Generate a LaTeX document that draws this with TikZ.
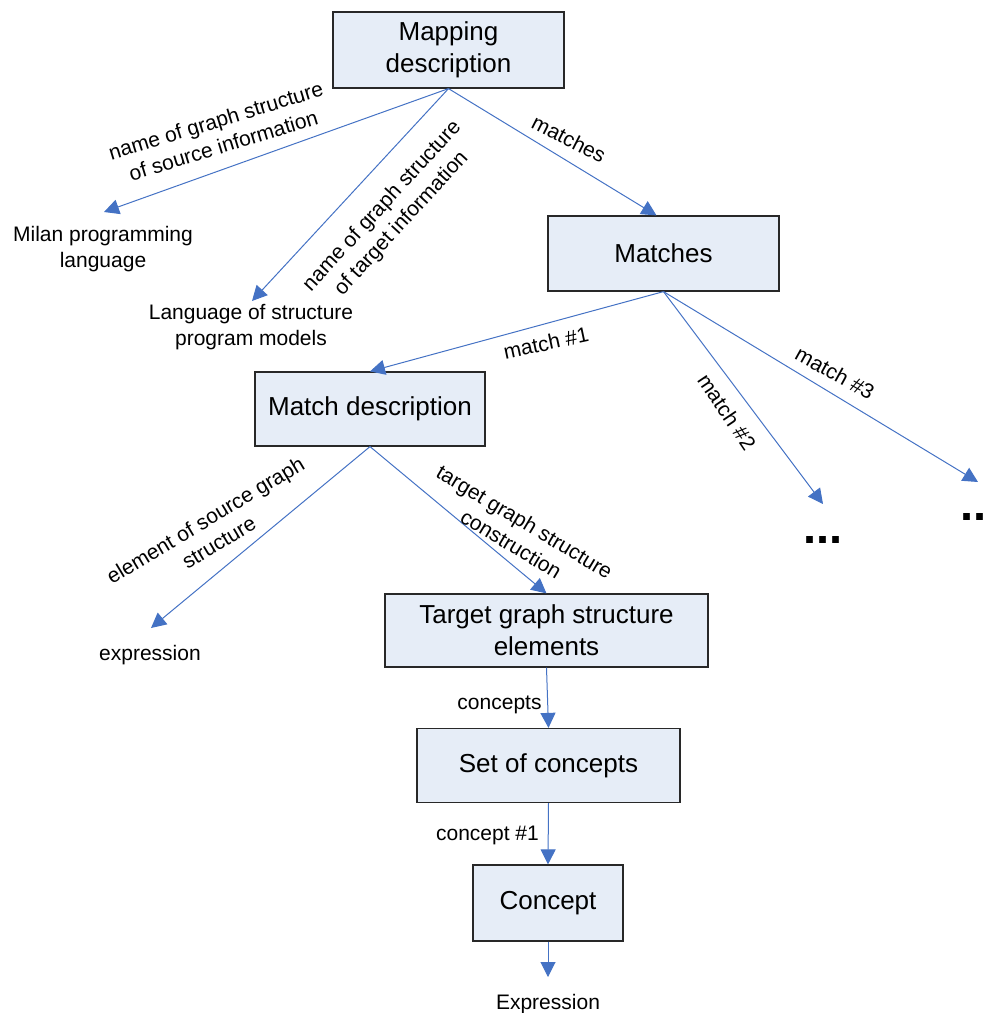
\documentclass[tikz,border=0pt]{standalone}
\usepackage{fontspec}
\setmainfont{Liberation Sans}
\usetikzlibrary{arrows.meta}

\definecolor{boxfill}{RGB}{230,237,247}
\definecolor{boxline}{RGB}{40,40,40}
\definecolor{linkblue}{RGB}{68,114,196}

\tikzset{
  box/.style={draw=boxline, fill=boxfill, line width=1.2pt, align=center,
    font=\fontsize{26}{32}\selectfont, inner sep=0pt},
  conn/.style={draw=linkblue, line width=1pt,
    -{Triangle[length=15pt,width=15pt]}},
  lab/.style={align=center, font=\fontsize{21}{26}\selectfont, inner sep=0pt, yshift=-2pt},
  dots/.style={font=\fontsize{47}{50}\selectfont\bfseries, inner sep=0pt, anchor=base},
}

\begin{document}
\begin{tikzpicture}[x=1pt, y=-1pt]
\useasboundingbox (0,0) rectangle (989,1013);

% boxes
\node[box, minimum width=231pt, minimum height=76pt] (map) at (448.5,50) {Mapping\\description};
\node[box, minimum width=231pt, minimum height=75pt] (matches) at (663.5,253.5) {Matches};
\node[box, minimum width=230pt, minimum height=74pt] (mdesc) at (370,409) {Match description};
\node[box, minimum width=323pt, minimum height=73pt] (target) at (546.5,630.5) {Target graph structure\\elements};
\node[box, minimum width=263pt, minimum height=74pt] (set) at (548.5,765.5) {Set of concepts};
\node[box, minimum width=150pt, minimum height=76pt] (concept) at (548,903) {Concept};

% plain text leaves
\node[lab] (milan) at (103,247) {Milan programming\\language};
\node[lab] (langsp) at (251,325) {Language of structure\\program models};
\node[lab] (expr) at (150,653) {expression};
\node[lab] (Expr) at (548,1002) {Expression};
\node[dots] (more2) at (823,543.5) {...};
\node[dots] (more3) at (973.5,520.5) {..};

% arrow end points next to the plain texts
\coordinate (milanTip) at (104,212);
\coordinate (langTip) at (252,301);
\coordinate (exprTip) at (151,628);
\coordinate (ExprTip) at (548,977);
\coordinate (more2Tip) at (823,504);
\coordinate (more3Tip) at (978,482);

% connectors
\draw[conn] (map.south) -- (milanTip);
\draw[conn] (map.south) -- (langTip);
\draw[conn] (map.south) -- ([xshift=-7pt]matches.north);
\draw[conn] (matches.south) -- (mdesc.north);
\draw[conn] (matches.south) -- (more2Tip);
\draw[conn] (matches.south) -- (more3Tip);
\draw[conn] (mdesc.south) -- (exprTip);
\draw[conn] (mdesc.south) -- (target.north);
\draw[conn] (target.south) -- (set.north);
\draw[conn] (set.south) -- (concept.north);
\draw[conn] (concept.south) -- (ExprTip);

% connector labels
\node[lab, rotate=17] (l1) at (219.5,131) {name of graph structure\\of source information};
\node[lab, rotate=47.5] (l2) at (392,213) {name of graph structure\\of target information};
\node[lab, rotate=-27] (l3) at (569,137) {matches};
\node[lab, rotate=12] (l4) at (546,341) {match \#1};
\node[lab, rotate=-56] (l5) at (727,410) {match \#2};
\node[lab, rotate=-29] (l6) at (835,371) {match \#3};
\node[lab, rotate=31] (l7) at (212,529) {element of source graph\\structure};
\node[lab, rotate=-31] (l8) at (518,531) {target graph structure\\construction};
\node[lab] (l9) at (499.5,703) {concepts};
\node[lab] (l10) at (487.5,833) {concept \#1};
\end{tikzpicture}
\end{document}
